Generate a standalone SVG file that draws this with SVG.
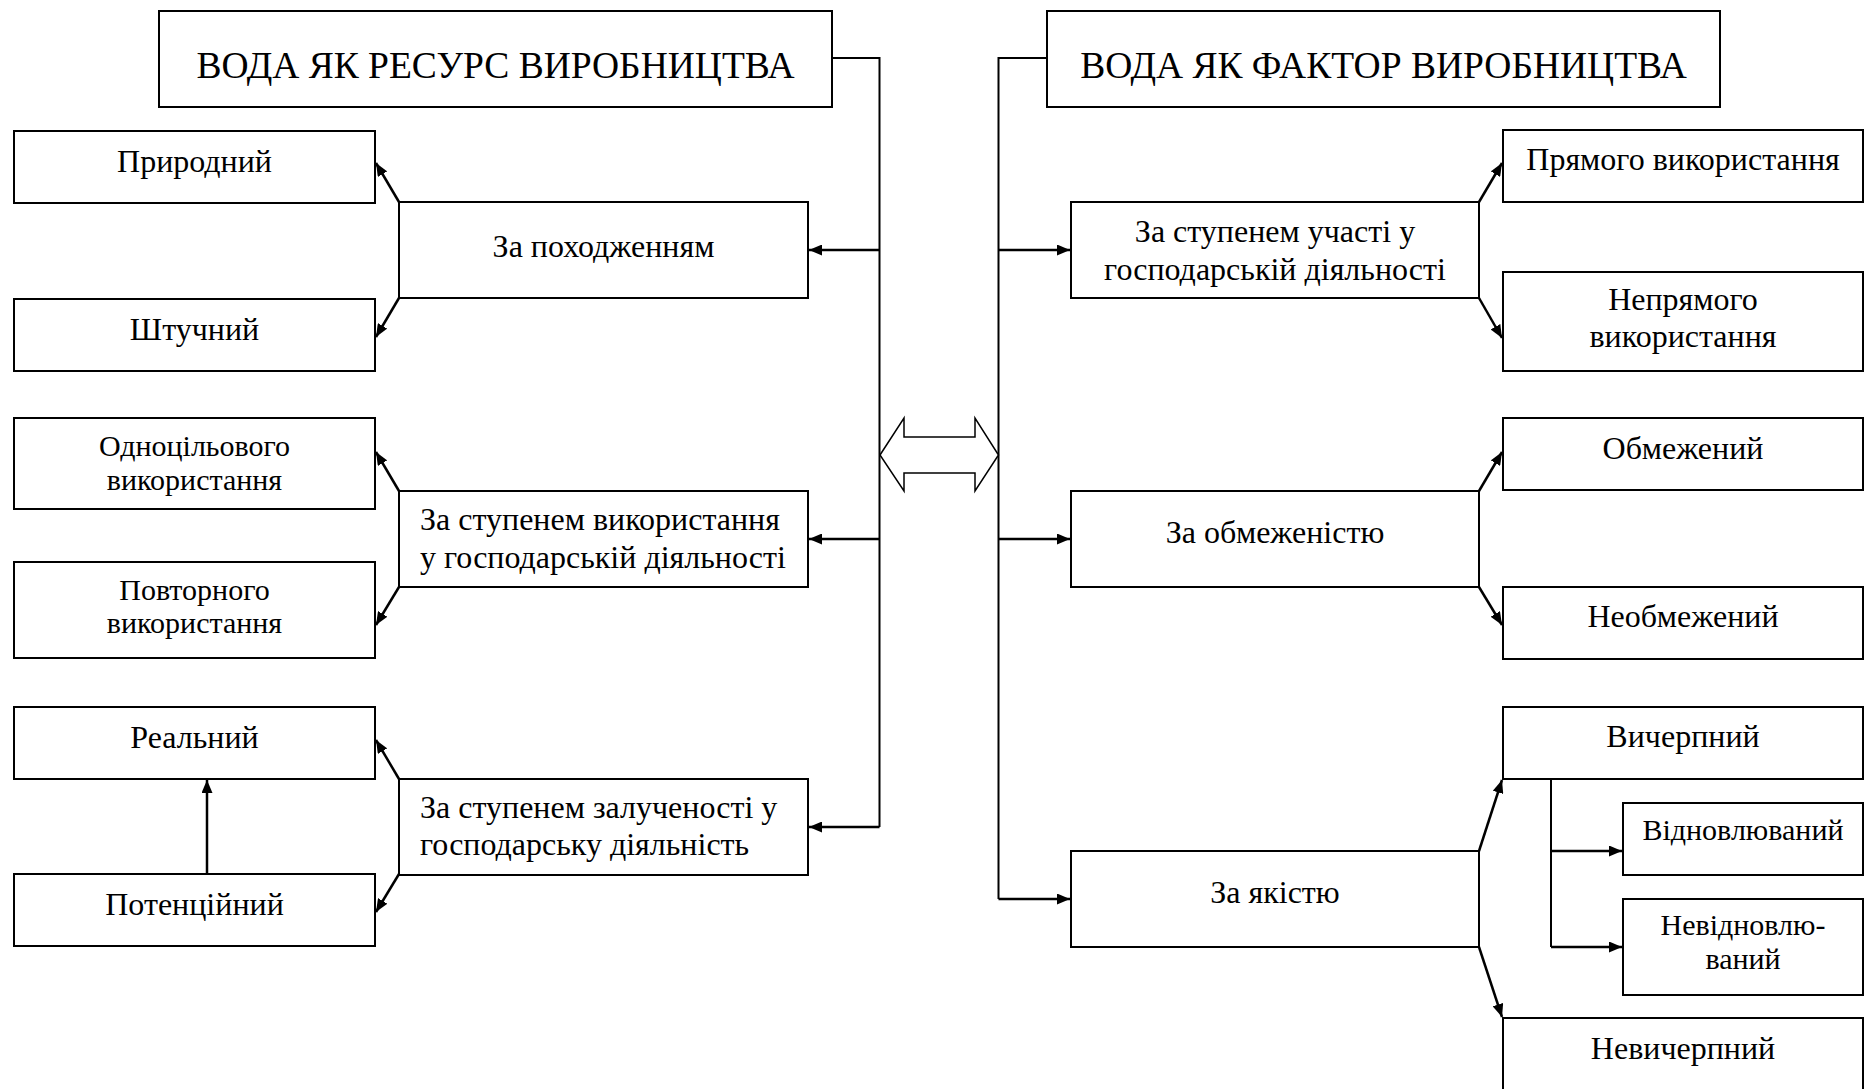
<svg xmlns="http://www.w3.org/2000/svg" width="1865" height="1089" viewBox="0 0 1865 1089">
<style>
.box{fill:#fff;stroke:#000;stroke-width:2}
.t{font-family:"Liberation Serif","Times New Roman",serif;font-size:32px;fill:#000;text-anchor:middle}
.ts{font-size:30px}
.tl{text-anchor:start}
.title{font-size:37.5px}
.c{fill:none;stroke:#000;stroke-width:2}
.ca{fill:none;stroke:#000;stroke-width:2.5;marker-end:url(#ah)}
</style>
<defs>
<marker id="ah" viewBox="0 0 13 11" refX="13" refY="5.5" markerWidth="13" markerHeight="11" markerUnits="userSpaceOnUse" orient="auto">
<path d="M0,0 L13,5.5 L0,11 z" fill="#000"/>
</marker>
</defs>
<rect width="1865" height="1089" fill="#fff"/>
<g id="connectors">
<polyline class="c" points="832,58 879.5,58 879.5,827"/>
<line class="ca" x1="879.5" y1="250" x2="809" y2="250"/>
<line class="ca" x1="879.5" y1="539" x2="809" y2="539"/>
<line class="ca" x1="879.5" y1="827" x2="809" y2="827"/>
<line class="ca" x1="399" y1="202" x2="376" y2="163"/>
<line class="ca" x1="399" y1="298" x2="376" y2="337"/>
<line class="ca" x1="399" y1="491" x2="376" y2="452"/>
<line class="ca" x1="399" y1="587" x2="376" y2="625"/>
<line class="ca" x1="399" y1="779" x2="376" y2="740"/>
<line class="ca" x1="399" y1="874" x2="376" y2="912"/>
<line class="ca" x1="207" y1="874" x2="207" y2="780"/>
<polyline class="c" points="1047,58 998.5,58 998.5,899"/>
<line class="ca" x1="998.5" y1="250" x2="1070" y2="250"/>
<line class="ca" x1="998.5" y1="539" x2="1070" y2="539"/>
<line class="ca" x1="998.5" y1="899" x2="1070" y2="899"/>
<line class="ca" x1="1479" y1="202" x2="1502" y2="163"/>
<line class="ca" x1="1479" y1="298" x2="1502" y2="338"/>
<line class="ca" x1="1479" y1="491" x2="1502" y2="452"/>
<line class="ca" x1="1479" y1="587" x2="1502" y2="625"/>
<line class="ca" x1="1479" y1="851" x2="1502" y2="780"/>
<line class="ca" x1="1479" y1="947" x2="1502" y2="1017"/>
<line class="c" x1="1551" y1="779" x2="1551" y2="947"/>
<line class="ca" x1="1551" y1="851" x2="1622" y2="851"/>
<line class="ca" x1="1551" y1="947" x2="1622" y2="947"/>
<polygon points="880,455 904,418 904,437 975,437 975,418 998.5,455 975,491 975,473 904,473 904,491" fill="#fff" stroke="#000" stroke-width="1.5"/>
</g>
<g id="n-title-left"><rect class="box" x="159" y="11" width="673" height="96"/><text class="t title" x="495.5" y="78">ВОДА ЯК РЕСУРС ВИРОБНИЦТВА</text></g>
<g id="n-title-right"><rect class="box" x="1047" y="11" width="673" height="96"/><text class="t title" x="1383.5" y="78">ВОДА ЯК ФАКТОР ВИРОБНИЦТВА</text></g>
<g id="n-pryrodnyi"><rect class="box" x="14" y="131" width="361" height="72"/><text class="t" x="194.5" y="172">Природний</text></g>
<g id="n-shtuchnyi"><rect class="box" x="14" y="299" width="361" height="72"/><text class="t" x="194.5" y="340">Штучний</text></g>
<g id="n-pokhodzh"><rect class="box" x="399" y="202" width="409" height="96"/><text class="t" x="603.5" y="257">За походженням</text></g>
<g id="n-odnotsil"><rect class="box" x="14" y="418" width="361" height="91"/><text class="t ts" x="194.5" y="456">Одноцільового</text><text class="t ts" x="194.5" y="490">використання</text></g>
<g id="n-vykoryst"><rect class="box" x="399" y="491" width="409" height="96"/><text class="t tl" x="420" y="530">За ступенем використання</text><text class="t tl" x="420" y="568">у господарській діяльності</text></g>
<g id="n-povtor"><rect class="box" x="14" y="562" width="361" height="96"/><text class="t ts" x="194.5" y="600">Повторного</text><text class="t ts" x="194.5" y="633">використання</text></g>
<g id="n-realnyi"><rect class="box" x="14" y="707" width="361" height="72"/><text class="t" x="194.5" y="748">Реальний</text></g>
<g id="n-zaluch"><rect class="box" x="399" y="779" width="409" height="96"/><text class="t tl" x="420" y="818">За ступенем залученості у</text><text class="t tl" x="420" y="855">господарську діяльність</text></g>
<g id="n-potents"><rect class="box" x="14" y="874" width="361" height="72"/><text class="t" x="194.5" y="915">Потенційний</text></g>
<g id="n-uchasti"><rect class="box" x="1071" y="202" width="408" height="96"/><text class="t" x="1275" y="242">За ступенем участі у</text><text class="t" x="1275" y="280">господарській діяльності</text></g>
<g id="n-priamoho"><rect class="box" x="1503" y="130" width="360" height="72"/><text class="t" x="1683" y="170">Прямого використання</text></g>
<g id="n-nepriamoho"><rect class="box" x="1503" y="272" width="360" height="99"/><text class="t" x="1683" y="310">Непрямого</text><text class="t" x="1683" y="347">використання</text></g>
<g id="n-obmezh"><rect class="box" x="1071" y="491" width="408" height="96"/><text class="t" x="1275" y="543">За обмеженістю</text></g>
<g id="n-obmezhenyi"><rect class="box" x="1503" y="418" width="360" height="72"/><text class="t" x="1683" y="459">Обмежений</text></g>
<g id="n-neobmezhenyi"><rect class="box" x="1503" y="587" width="360" height="72"/><text class="t" x="1683" y="627">Необмежений</text></g>
<g id="n-yakist"><rect class="box" x="1071" y="851" width="408" height="96"/><text class="t" x="1275" y="903">За якістю</text></g>
<g id="n-vycherpnyi"><rect class="box" x="1503" y="707" width="360" height="72"/><text class="t" x="1683" y="747">Вичерпний</text></g>
<g id="n-vidnovl"><rect class="box" x="1623" y="803" width="240" height="72"/><text class="t ts" x="1743" y="840">Відновлюваний</text></g>
<g id="n-nevidnovl"><rect class="box" x="1623" y="899" width="240" height="96"/><text class="t ts" x="1743" y="935">Невідновлю-</text><text class="t ts" x="1743" y="969">ваний</text></g>
<g id="n-nevycherpnyi"><rect class="box" x="1503" y="1018" width="360" height="90"/><text class="t" x="1683" y="1059">Невичерпний</text></g>
</svg>
